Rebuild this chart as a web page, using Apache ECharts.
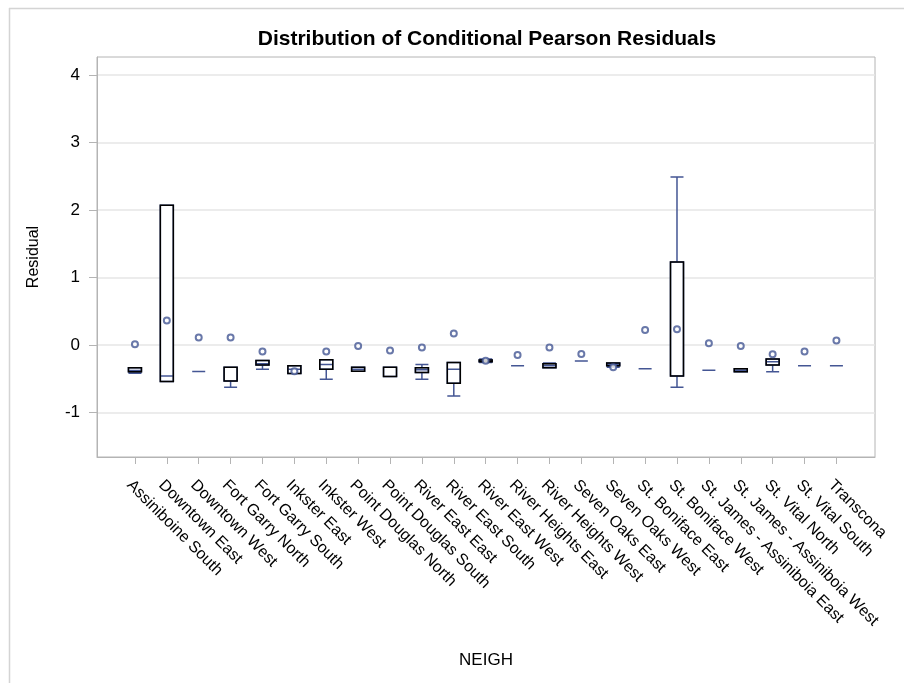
<!DOCTYPE html>
<html>
<head>
<meta charset="utf-8">
<title>Distribution of Conditional Pearson Residuals</title>
<script src="https://cdn.jsdelivr.net/npm/echarts@6/dist/echarts.min.js"></script>
<style>
  html, body { margin: 0; padding: 0; background: #fff; }
  #main { width: 904px; height: 683px; }
</style>
</head>
<body>
<div id="main"></div>
<script>
// neighbourhoods on the x axis
var neighs = ["Assiniboine South", "Downtown East", "Downtown West", "Fort Garry North",
  "Fort Garry South", "Inkster East", "Inkster West", "Point Douglas North",
  "Point Douglas South", "River East East", "River East South", "River East West",
  "River Heights East", "River Heights West", "Seven Oaks East", "Seven Oaks West",
  "St. Boniface East", "St. Boniface West", "St. James - Assiniboia East",
  "St. James - Assiniboia West", "St. Vital North", "St. Vital South", "Transcona"];

// box statistics
var mins    = [-0.42, -0.545, -0.395, -0.63, -0.36, -0.425, -0.51, -0.39, -0.47, -0.51, -0.76, -0.26, -0.31, -0.34, -0.24, -0.33, -0.355, -0.63, -0.375, -0.40, -0.40, -0.31, -0.31];
var q1s     = [-0.40, -0.545, -0.395, -0.535, -0.30, -0.425, -0.36, -0.39, -0.47, -0.41, -0.57, -0.25, -0.31, -0.34, -0.24, -0.31, -0.355, -0.46, -0.375, -0.40, -0.30, -0.31, -0.31];
var medians = [-0.38, -0.46, -0.395, -0.33, -0.28, -0.36, -0.29, -0.36, -0.33, -0.37, -0.36, -0.24, -0.31, -0.31, -0.24, -0.29, -0.355, -0.46, -0.375, -0.38, -0.25, -0.31, -0.31];
var q3s     = [-0.34, 2.07, -0.395, -0.33, -0.23, -0.31, -0.22, -0.33, -0.33, -0.34, -0.26, -0.225, -0.31, -0.28, -0.24, -0.27, -0.355, 1.23, -0.375, -0.355, -0.21, -0.31, -0.31];
var maxs    = [-0.34, 2.07, -0.395, -0.33, -0.23, -0.31, -0.22, -0.33, -0.33, -0.29, -0.26, -0.21, -0.31, -0.27, -0.24, -0.27, -0.355, 2.49, -0.375, -0.355, -0.21, -0.31, -0.31];
var means   = [0.01, 0.36, 0.11, 0.11, -0.10, -0.39, -0.10, -0.015, -0.085, -0.04, 0.17, -0.235, -0.15, -0.04, -0.135, -0.33, 0.22, 0.23, 0.025, -0.015, -0.14, -0.10, 0.065];

var yTicks = [-1, 0, 1, 2, 3, 4];

var blue = "#445694";
var frameColor = "#b4b4b4";
var font = "Liberation Sans, Arial, sans-serif";

// full box (whiskers + median) in blue, box outline redrawn in black on top
var whiskerData = [], boxData = [], meanData = [], xTicks = [];
for (var i = 0; i < neighs.length; i++) {
  xTicks.push(i);
  whiskerData.push([i, mins[i], q1s[i], medians[i], q3s[i], maxs[i]]);
  if (q3s[i] - q1s[i] > 0.001) {
    boxData.push([i, q1s[i], q1s[i], q1s[i], q3s[i], q3s[i]]);
  }
  meanData.push([i, means[i]]);
}

var xMin = -1.19, xMax = 23.21;

var chart = echarts.init(document.getElementById("main"));
chart.setOption({
  animation: false,
  backgroundColor: "#fff",
  title: {
    text: "Distribution of Conditional Pearson Residuals",
    left: 482,
    top: 24,
    textAlign: "center",
    textStyle: { fontFamily: font, fontSize: 21, fontWeight: "bold", color: "#000" }
  },
  grid: {
    left: 97, top: 57, width: 778, height: 400,
    show: true, borderColor: frameColor, borderWidth: 1,
    outerBoundsMode: "none"
  },
  xAxis: [
    {
      type: "value",
      min: xMin,
      max: xMax,
      name: "NEIGH",
      nameLocation: "middle",
      nameGap: 195,
      nameTextStyle: { fontFamily: font, fontSize: 17, color: "#000" },
      axisLine: { show: true, onZero: false, lineStyle: { color: frameColor } },
      axisTick: { show: true, length: 7, customValues: xTicks, lineStyle: { color: frameColor } },
      splitLine: { show: false },
      axisLabel: {
        customValues: xTicks,
        rotate: -45,
        margin: 20,
        verticalAlign: "top",
        fontFamily: font,
        fontSize: 16,
        color: "#000",
        formatter: function (v) { return neighs[Math.round(v)] || ""; }
      }
    },
    {
      // hidden twin axis so the black box outlines are not dodged sideways
      type: "value",
      min: xMin,
      max: xMax,
      show: false
    }
  ],
  yAxis: {
    type: "value",
    min: -1.663,
    max: 4.27,
    name: "Residual",
    nameLocation: "middle",
    nameGap: 55,
    nameTextStyle: { fontFamily: font, fontSize: 16, color: "#000" },
    axisLine: { show: true, onZero: false, lineStyle: { color: frameColor } },
    axisTick: { show: true, length: 8, customValues: yTicks, lineStyle: { color: frameColor } },
    splitLine: { show: true, lineStyle: { color: "#e6e6e6", width: 1.5 } },
    axisLabel: {
      customValues: yTicks,
      margin: 17,
      fontFamily: font,
      fontSize: 17,
      color: "#000"
    }
  },
  series: [
    {
      name: "whisker",
      type: "boxplot",
      data: whiskerData,
      boxWidth: [13, 13],
      itemStyle: { color: "#fff", borderColor: blue, borderWidth: 1.5 },
      z: 2
    },
    {
      name: "box",
      type: "boxplot",
      xAxisIndex: 1,
      data: boxData,
      boxWidth: [13, 13],
      itemStyle: { color: "rgba(0,0,0,0)", borderColor: "#000", borderWidth: 1.5 },
      z: 3
    },
    {
      name: "mean",
      type: "scatter",
      data: meanData,
      symbol: "emptyCircle",
      symbolSize: 6,
      itemStyle: { color: blue, borderColor: blue, borderWidth: 1.5 },
      z: 4
    }
  ],
  graphic: [
    // outer frame of the picture (top and left only)
    { type: "line", shape: { x1: 9, y1: 8.5, x2: 904, y2: 8.5 }, style: { stroke: "#d4d4d4", lineWidth: 1.5 }, silent: true },
    { type: "line", shape: { x1: 9.5, y1: 8, x2: 9.5, y2: 683 }, style: { stroke: "#d4d4d4", lineWidth: 1.5 }, silent: true }
  ]
});
</script>
</body>
</html>
